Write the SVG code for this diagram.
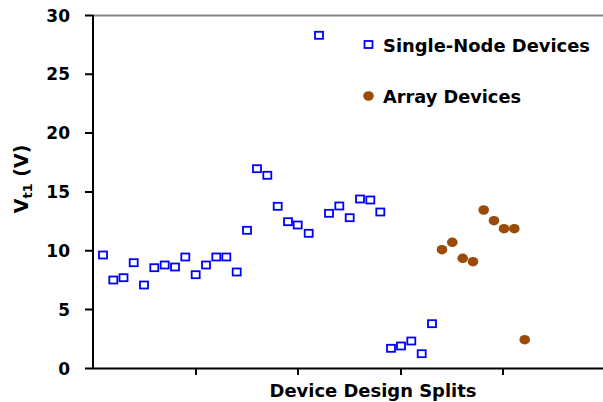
<svg xmlns="http://www.w3.org/2000/svg" xmlns:xlink="http://www.w3.org/1999/xlink" width="603" height="402" viewBox="0 0 603 402">
<style>
.t{font-family:"DejaVu Sans","Liberation Sans",sans-serif;font-weight:bold;fill:#000}
.tick{font-size:17px;text-anchor:end}
.lbl{font-size:18px}
.ax{stroke:#000;stroke-width:2;fill:none}
.sq{fill:#fff;stroke:#0000ff;stroke-width:1.8}
.dot{fill:#9b4a07}
</style>
<defs>
<rect id="s" class="sq" x="-4" y="-3.5" width="8" height="7"/>
<ellipse id="c" class="dot" cx="0" cy="0" rx="5.3" ry="4.8"/>
</defs>
<rect width="603" height="402" fill="#fff"/>
<g id="axes">
<line x1="93" y1="15.5" x2="603" y2="15.5" stroke="#868686" stroke-width="2"/>
<line class="ax" x1="93" y1="15" x2="93" y2="369"/>
<line class="ax" x1="85" y1="368.5" x2="603" y2="368.5"/>
<path class="ax" d="M85 15.5H93M85 74.3H93M85 133.1H93M85 191.9H93M85 250.7H93M85 309.5H93M196 368.5V375M298 368.5V375M401 368.5V375M503 368.5V375"/>
<text class="t tick" x="70" y="21.5">30</text>
<text class="t tick" x="70" y="80.3">25</text>
<text class="t tick" x="70" y="139.1">20</text>
<text class="t tick" x="70" y="197.9">15</text>
<text class="t tick" x="70" y="256.7">10</text>
<text class="t tick" x="70" y="315.5">5</text>
<text class="t tick" x="70" y="374.5">0</text>
<text class="t" font-size="18" x="373" y="396.5" text-anchor="middle" textLength="207" lengthAdjust="spacingAndGlyphs">Device Design Splits</text>
<text class="t" font-size="19" transform="translate(28 179) rotate(-90)" text-anchor="middle">V<tspan font-size="13" dy="4">t1</tspan><tspan dy="-4"> (V)</tspan></text>
</g>
<g id="single-node">
<use xlink:href="#s" x="103" y="255"/>
<use xlink:href="#s" x="113.3" y="280"/>
<use xlink:href="#s" x="123.5" y="277.7"/>
<use xlink:href="#s" x="133.7" y="262.7"/>
<use xlink:href="#s" x="144" y="285"/>
<use xlink:href="#s" x="154.3" y="267.7"/>
<use xlink:href="#s" x="164.7" y="265"/>
<use xlink:href="#s" x="175" y="267"/>
<use xlink:href="#s" x="185.3" y="257"/>
<use xlink:href="#s" x="195.7" y="274.7"/>
<use xlink:href="#s" x="206" y="265"/>
<use xlink:href="#s" x="216.3" y="257"/>
<use xlink:href="#s" x="226.3" y="257"/>
<use xlink:href="#s" x="236.7" y="272"/>
<use xlink:href="#s" x="247" y="230.3"/>
<use xlink:href="#s" x="257" y="168.7"/>
<use xlink:href="#s" x="267.3" y="175.3"/>
<use xlink:href="#s" x="277.7" y="206.3"/>
<use xlink:href="#s" x="288" y="221.7"/>
<use xlink:href="#s" x="297.7" y="225"/>
<use xlink:href="#s" x="308.7" y="233.3"/>
<use xlink:href="#s" x="319" y="35.3"/>
<use xlink:href="#s" x="329" y="213.3"/>
<use xlink:href="#s" x="339.3" y="206"/>
<use xlink:href="#s" x="349.7" y="217.7"/>
<use xlink:href="#s" x="360" y="199"/>
<use xlink:href="#s" x="370.3" y="200"/>
<use xlink:href="#s" x="380.3" y="212"/>
<use xlink:href="#s" x="391" y="348.3"/>
<use xlink:href="#s" x="401" y="346"/>
<use xlink:href="#s" x="411.3" y="341"/>
<use xlink:href="#s" x="421.7" y="353.7"/>
<use xlink:href="#s" x="432" y="323.7"/>
</g>
<g id="array">
<use xlink:href="#c" x="442" y="249.7"/>
<use xlink:href="#c" x="452.3" y="242.3"/>
<use xlink:href="#c" x="462.7" y="258.3"/>
<use xlink:href="#c" x="473" y="261.7"/>
<use xlink:href="#c" x="483.7" y="210"/>
<use xlink:href="#c" x="494" y="220.7"/>
<use xlink:href="#c" x="504" y="228.7"/>
<use xlink:href="#c" x="514.3" y="228.7"/>
<use xlink:href="#c" x="524.7" y="339.7"/>
</g>
<g id="legend">
<use xlink:href="#s" x="368.5" y="44.5"/>
<text class="t lbl" x="383" y="51.5" textLength="207" lengthAdjust="spacingAndGlyphs">Single-Node Devices</text>
<use xlink:href="#c" x="368.5" y="96"/>
<text class="t lbl" x="383" y="103" textLength="138" lengthAdjust="spacingAndGlyphs">Array Devices</text>
</g>
</svg>
